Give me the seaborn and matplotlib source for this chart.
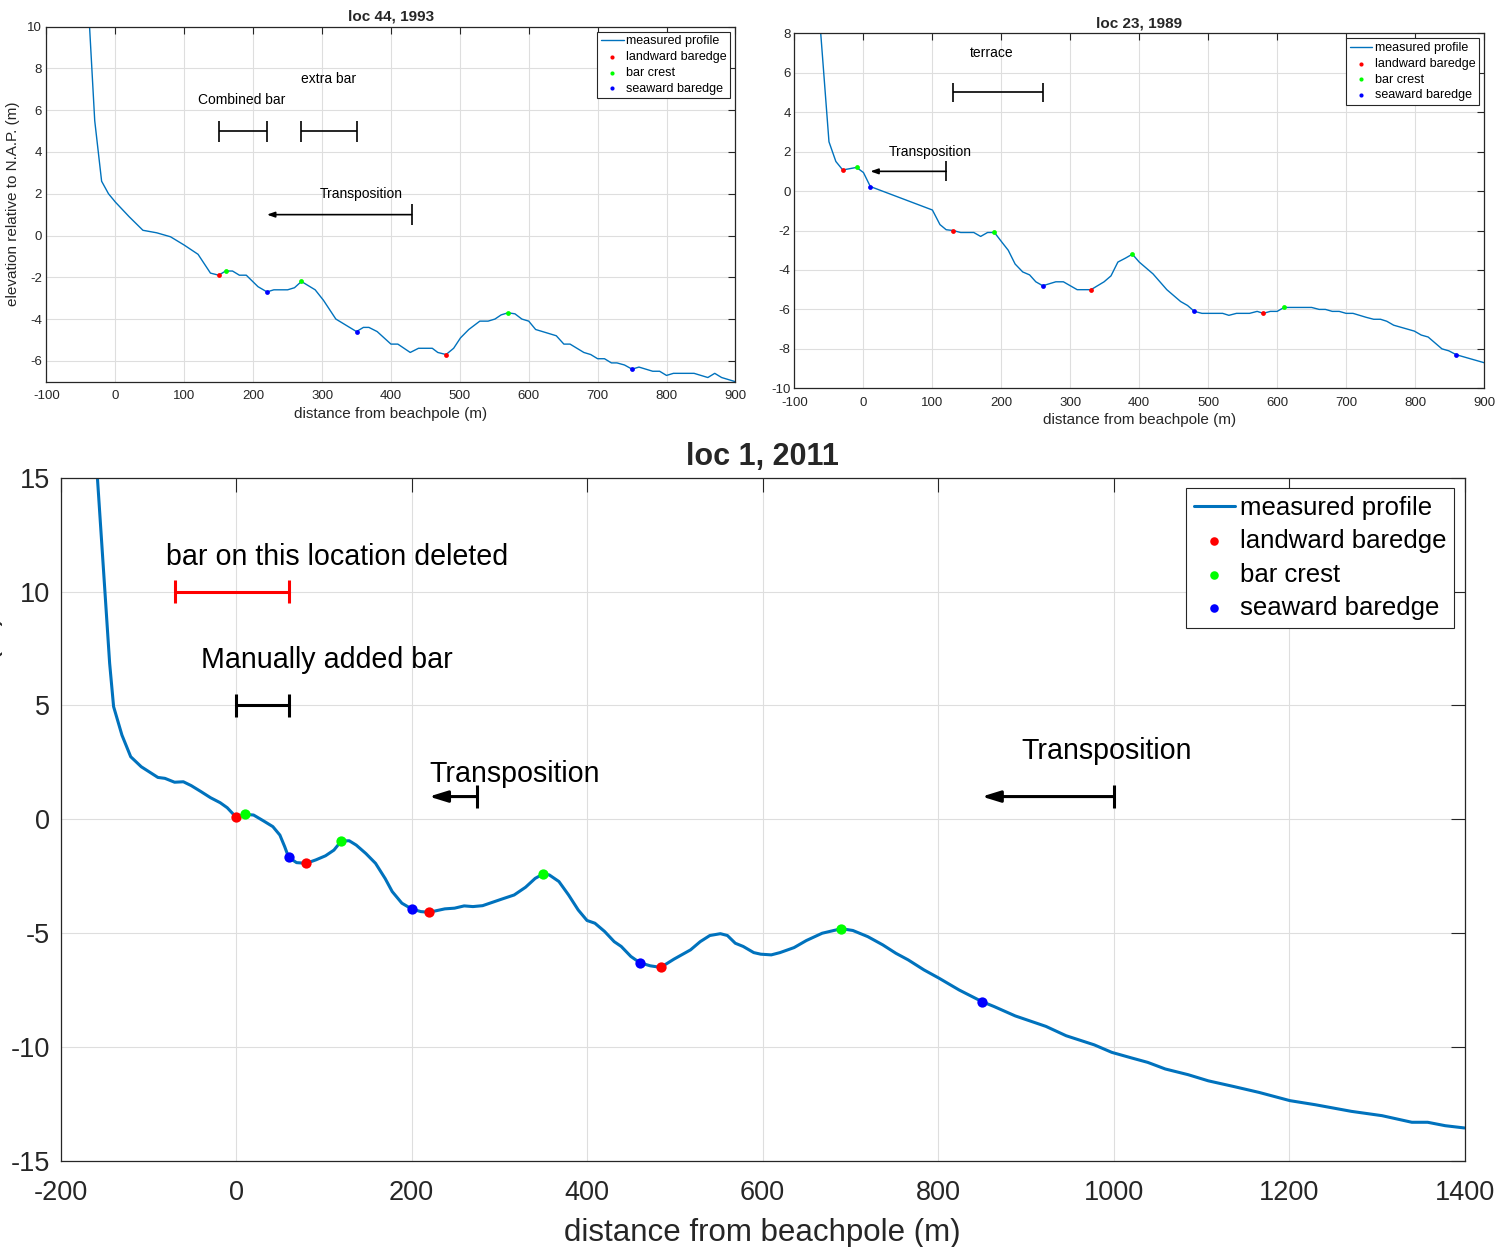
import matplotlib
matplotlib.use("Agg")
import matplotlib.pyplot as plt
import seaborn as sns

# ---------------- loc 44, 1993 ----------------
loc44_x = [-40, -30, -20, -10, 0, 20, 40, 60, 80, 100, 120, 138, 150, 160, 170, 180, 190,
           207, 220, 230, 250, 260, 270, 290, 302, 310, 320, 330, 350, 360, 368, 380,
           400, 410, 428, 440, 460, 468, 480, 491, 501, 513, 529, 541, 551, 560, 570,
           580, 590, 600, 610, 620, 640, 651, 660, 680, 690, 700, 710, 720, 728, 739,
           750, 760, 780, 790, 800, 810, 840, 860, 870, 880, 900]
loc44_z = [11.5, 5.5, 2.6, 2.0, 1.6, 0.9, 0.25, 0.13, -0.06, -0.46, -0.9, -1.8, -1.9, -1.7,
           -1.7, -1.9, -1.9, -2.45, -2.7, -2.6, -2.6, -2.5, -2.2, -2.6, -3.1, -3.5, -4.0,
           -4.2, -4.6, -4.4, -4.4, -4.6, -5.2, -5.2, -5.6, -5.4, -5.4, -5.6, -5.7, -5.4,
           -4.9, -4.5, -4.1, -4.1, -4.0, -3.8, -3.7, -3.75, -4.0, -4.1, -4.5, -4.6, -4.8,
           -5.2, -5.2, -5.6, -5.7, -5.9, -5.9, -6.1, -6.1, -6.2, -6.4, -6.3, -6.5, -6.5,
           -6.7, -6.6, -6.6, -6.8, -6.6, -6.8, -7.0]
loc44_land_x, loc44_land_z = [150, 480], [-1.9, -5.7]
loc44_crest_x, loc44_crest_z = [160, 270, 570], [-1.7, -2.2, -3.7]
loc44_sea_x, loc44_sea_z = [220, 350, 750], [-2.7, -4.6, -6.4]

# ---------------- loc 23, 1989 ----------------
loc23_x = [-70, -50, -40, -30, -10, 0, 10, 100, 111, 120, 130, 141, 160, 170, 180, 190,
           201, 210, 220, 231, 241, 250, 260, 279, 290, 310, 321, 330, 349, 359, 369, 380,
           390, 400, 420, 440, 460, 470, 480, 491, 521, 530, 541, 560, 571, 580, 590, 600,
           610, 620, 650, 661, 670, 680, 690, 700, 710, 729, 740, 750, 759, 769, 779, 799,
           809, 819, 839, 849, 860, 900]
loc23_z = [11.7, 2.5, 1.5, 1.07, 1.2, 0.94, 0.23, -0.96, -1.7, -1.96, -2.0, -2.1, -2.1,
           -2.3, -2.1, -2.1, -2.6, -3.0, -3.7, -4.1, -4.25, -4.6, -4.8, -4.6, -4.6, -5.0,
           -5.0, -5.0, -4.6, -4.3, -3.6, -3.4, -3.2, -3.6, -4.2, -5.0, -5.6, -5.8, -6.1,
           -6.2, -6.2, -6.3, -6.2, -6.2, -6.1, -6.2, -6.1, -6.1, -5.9, -5.9, -5.9, -6.0,
           -6.0, -6.1, -6.1, -6.2, -6.2, -6.4, -6.5, -6.5, -6.6, -6.8, -6.9, -7.1, -7.3,
           -7.4, -8.0, -8.1, -8.3, -8.7]
loc23_land_x, loc23_land_z = [-30, 130, 330, 580], [1.07, -2.0, -5.0, -6.2]
loc23_crest_x, loc23_crest_z = [-10, 190, 390, 610], [1.2, -2.1, -3.2, -5.9]
loc23_sea_x, loc23_sea_z = [10, 260, 480, 860], [0.23, -4.8, -6.1, -8.3]

# ---------------- loc 1, 2011 ----------------
loc1_x = [-160, -154, -149, -144, -139.5, -130, -120, -108, -89, -81, -70, -60, -51, -40,
          -29, -18, -10, 0, 10, 20, 31, 42, 50, 55.5, 60, 69, 80, 91, 102, 111.6, 120,
          129, 137, 148, 159, 170, 178, 189, 200, 210.6, 220, 238, 249, 260, 270, 281,
          303, 317, 330, 341, 350, 357, 368, 379, 390, 400, 409, 420, 431, 439, 450, 460,
          472, 484, 499, 518, 529, 540, 552, 560, 569, 578, 590, 598, 610, 620, 636, 650,
          668, 690, 703, 720, 737, 752, 766, 784, 801, 824, 850, 864, 888, 923, 946, 978,
          998, 1021, 1039, 1059, 1085, 1108, 1137, 1166, 1201, 1230, 1271, 1306, 1340,
          1358, 1378, 1400]
loc1_z = [16.2, 12.7, 9.78, 6.85, 4.95, 3.7, 2.75, 2.31, 1.84, 1.8, 1.63, 1.65, 1.48,
          1.22, 0.95, 0.73, 0.51, 0.1, 0.22, 0.19, -0.06, -0.32, -0.69, -1.2, -1.67,
          -1.9, -1.93, -1.78, -1.6, -1.35, -0.95, -0.94, -1.13, -1.5, -1.93, -2.6, -3.17,
          -3.68, -3.93, -4.05, -4.08, -3.93, -3.9, -3.8, -3.83, -3.79, -3.5, -3.32,
          -2.98, -2.59, -2.4, -2.44, -2.73, -3.32, -3.98, -4.44, -4.56, -4.92, -5.37,
          -5.58, -6.02, -6.29, -6.43, -6.5, -6.14, -5.73, -5.37, -5.1, -5.02, -5.1,
          -5.44, -5.58, -5.85, -5.92, -5.95, -5.85, -5.63, -5.32, -5.0, -4.8, -4.88,
          -5.15, -5.51, -5.88, -6.17, -6.61, -6.97, -7.49, -8.0, -8.22, -8.63, -9.09,
          -9.5, -9.9, -10.23, -10.48, -10.67, -10.96, -11.21, -11.48, -11.73, -11.99,
          -12.35, -12.53, -12.82, -13.01, -13.3, -13.3, -13.45, -13.55]
loc1_land_x, loc1_land_z = [0, 80, 220, 484], [0.1, -1.93, -4.08, -6.5]
loc1_crest_x, loc1_crest_z = [10, 120, 350, 690], [0.22, -0.95, -2.4, -4.8]
loc1_sea_x, loc1_sea_z = [60, 200, 460, 850], [-1.67, -3.93, -6.29, -8.0]

# Marked bar intervals: (start, end, elevation, colour)
loc44_spans = [(150, 220, 5.0, "black"), (270, 350, 5.0, "black")]
loc23_spans = [(130, 260, 5.0, "black")]
loc1_spans = [(-70, 60, 10.0, "#ff0000"), (0, 60, 5.0, "black")]

# Transposition arrows: (from, to, elevation)
loc44_shifts = [(430, 220, 1.0)]
loc23_shifts = [(120, 10, 1.0)]
loc1_shifts = [(275, 220, 1.0), (1000, 850, 1.0)]

# Text labels: (text, x, z)
loc44_notes = [("Combined bar", 120, 6.5), ("extra bar", 270, 7.5), ("Transposition", 296, 2.0)]
loc23_notes = [("terrace", 155, 7.0), ("Transposition", 37, 2.0)]
loc1_notes = [("bar on this location deleted", -80, 11.5), ("Manually added bar", -40, 7.0),
              ("Transposition", 220, 2.0), ("Transposition", 895, 3.0)]

PROFILE_BLUE = "#0072BD"
AX_GREY = "#262626"

sns.set_theme(style="white")
plt.rcParams["font.family"] = ["Liberation Sans", "DejaVu Sans"]
plt.rcParams["axes.unicode_minus"] = False

fig = plt.figure(figsize=(14.98, 12.47), dpi=100)
ax44 = fig.add_axes([0.03104, 0.69391, 0.45988, 0.28468])
ax23 = fig.add_axes([0.53037, 0.68861, 0.46028, 0.28469])
ax1 = fig.add_axes([0.04039, 0.06897, 0.93725, 0.54795])


def draw_profile(ax, x, z, land, crest, sea, lw, msize):
    sns.lineplot(x=x, y=z, ax=ax, color=PROFILE_BLUE, linewidth=lw, sort=False,
                 estimator=None, label="measured profile", zorder=2)
    for (px, pz), col, lab in ((land, "#ff0000", "landward baredge"),
                               (crest, "#00ff00", "bar crest"),
                               (sea, "#0000ff", "seaward baredge")):
        sns.scatterplot(x=px, y=pz, ax=ax, color=col, s=msize, linewidth=0,
                        label=lab, zorder=3)


def draw_spans(ax, spans, lw):
    for x0, x1, z, col in spans:
        ax.hlines(z, x0, x1, color=col, lw=lw)
        ax.vlines([x0, x1], z - 0.5, z + 0.5, color=col, lw=lw)


def draw_shifts(ax, shifts, lw, scale, hl, hw):
    for xf, xt, z in shifts:
        ax.annotate("", xy=(xt, z), xytext=(xf, z),
                    arrowprops=dict(arrowstyle=f"-|>,head_length={hl},head_width={hw}",
                                    color="black", lw=lw, shrinkA=0, shrinkB=0,
                                    mutation_scale=scale))
        ax.vlines(xf, z - 0.5, z + 0.5, color="black", lw=lw)


def draw_notes(ax, notes, fs):
    for txt, x, z in notes:
        ax.text(x, z, txt, fontsize=fs, ha="left", va="center", color="black")


def style_axes(ax, xlim, ylim, xticks, yticks, tick_fs, ticklen, pad_x, pad_y):
    ax.set_xlim(xlim)
    ax.set_ylim(ylim)
    ax.set_xticks(xticks)
    ax.set_yticks(yticks)
    ax.grid(True, color="#dedede", linewidth=0.8)
    ax.set_axisbelow(True)
    ax.tick_params(direction="in", top=True, right=True, length=ticklen, width=0.8,
                   colors=AX_GREY, labelsize=tick_fs)
    ax.tick_params(axis="x", pad=pad_x)
    ax.tick_params(axis="y", pad=pad_y)
    for sp in ax.spines.values():
        sp.set_color(AX_GREY)
        sp.set_linewidth(0.9)


def add_legend(ax, fs, handlelength, spacing, dot_size):
    leg = ax.legend(loc="upper right", fontsize=fs, frameon=True, fancybox=False,
                    framealpha=1, edgecolor=AX_GREY, borderaxespad=0.4,
                    labelspacing=spacing, handlelength=handlelength, handletextpad=0.2,
                    borderpad=0.3, scatterpoints=1)
    leg.get_frame().set_linewidth(0.8)
    for h in leg.legend_handles[1:]:
        h.set_sizes([dot_size])
    for t in leg.get_texts():
        t.set_color("black")


# --- loc 44, 1993 ---
draw_profile(ax44, loc44_x, loc44_z, (loc44_land_x, loc44_land_z),
             (loc44_crest_x, loc44_crest_z), (loc44_sea_x, loc44_sea_z), 1.0, 12)
draw_spans(ax44, loc44_spans, 1.2)
draw_shifts(ax44, loc44_shifts, 1.2, 10, 0.45, 0.16)
draw_notes(ax44, loc44_notes, 10)
style_axes(ax44, (-100, 900), (-7, 10), range(-100, 901, 100), range(-6, 11, 2),
           9.5, 5, 6, 3.3)
ax44.set_xlabel("distance from beachpole (m)", fontsize=11, labelpad=3.5, color=AX_GREY)
ax44.set_ylabel("elevation relative to N.A.P. (m)", fontsize=11, labelpad=5, color=AX_GREY)
ax44.set_title("loc 44, 1993", fontsize=11, fontweight="bold", pad=4.3)
add_legend(ax44, 9, 1.8, 0.3, 9)

# --- loc 23, 1989 ---
draw_profile(ax23, loc23_x, loc23_z, (loc23_land_x, loc23_land_z),
             (loc23_crest_x, loc23_crest_z), (loc23_sea_x, loc23_sea_z), 1.0, 12)
draw_spans(ax23, loc23_spans, 1.2)
draw_shifts(ax23, loc23_shifts, 1.2, 10, 0.45, 0.16)
draw_notes(ax23, loc23_notes, 10)
style_axes(ax23, (-100, 900), (-10, 8), range(-100, 901, 100), range(-10, 9, 2),
           9.5, 5, 6, 2.7)
ax23.set_xlabel("distance from beachpole (m)", fontsize=11, labelpad=3.5, color=AX_GREY)
ax23.set_ylabel("")
ax23.set_title("loc 23, 1989", fontsize=11, fontweight="bold", pad=4.3)
add_legend(ax23, 9, 1.8, 0.3, 9)

# --- loc 1, 2011 ---
draw_profile(ax1, loc1_x, loc1_z, (loc1_land_x, loc1_land_z),
             (loc1_crest_x, loc1_crest_z), (loc1_sea_x, loc1_sea_z), 2.2, 55)
draw_spans(ax1, loc1_spans, 2.2)
draw_shifts(ax1, loc1_shifts, 2.2, 20, 0.55, 0.17)
draw_notes(ax1, loc1_notes, 20.6)
style_axes(ax1, (-200, 1400), (-15, 15), range(-200, 1401, 200), range(-15, 16, 5),
           19.5, 10, 13.5, 7.5)
ax1.set_xlabel("distance from beachpole (m)", fontsize=22.5, labelpad=9, color=AX_GREY)
ax1.set_ylabel("elevation relative to N.A.P. (m)", fontsize=22, color=AX_GREY)
ax1.yaxis.set_label_coords(-0.041, 0.5)
ax1.set_title("loc 1, 2011", fontsize=22, fontweight="bold", pad=9)
add_legend(ax1, 18.5, 1.6, 0.37, 38)

fig.savefig("out.png", dpi=100)
